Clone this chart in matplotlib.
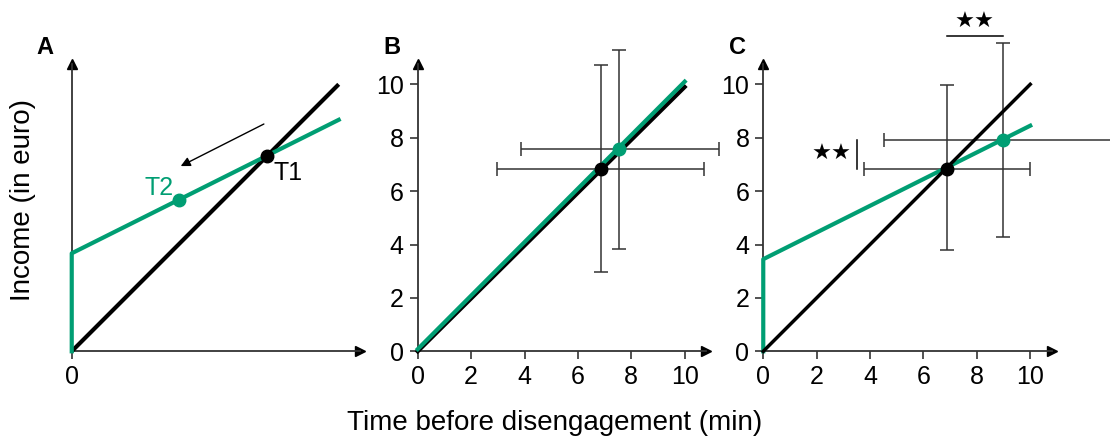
import matplotlib
matplotlib.use('Agg')
import matplotlib.pyplot as plt

plt.rcParams['font.family'] = ['Liberation Sans', 'DejaVu Sans']

GREEN = '#009E73'
AXC = '#333333'

# Panel A: schematic income lines
a_black_x = [0, 10]
a_black_y = [0, 10]
a_green_x = [0, 0, 10]
a_green_y = [0, 3.67, 8.67]
a_t1 = (7.3, 7.31)
a_t2 = (4.01, 5.67)
a_arrow_from = (7.29, 8.56)
a_arrow_to = (3.99, 6.89)

# Panel B
b_black_x = [0, 10]
b_black_y = [0, 9.9]
b_green_x = [0, 10]
b_green_y = [0.08, 10.1]
b_black_pt = dict(x=6.85, y=6.84, x_lo=2.97, x_hi=10.71, y_lo=2.97, y_hi=10.71)
b_green_pt = dict(x=7.55, y=7.56, x_lo=3.85, x_hi=11.3, y_lo=3.83, y_hi=11.29)

# Panel C
c_black_x = [0, 10]
c_black_y = [0, 10]
c_green_x = [0, 0, 10]
c_green_y = [0, 3.45, 8.45]
c_black_pt = dict(x=6.88, y=6.84, x_lo=3.78, x_hi=9.98, y_lo=3.78, y_hi=9.99)
c_green_pt = dict(x=8.98, y=7.9, x_lo=4.54, x_hi=13.4, y_lo=4.28, y_hi=11.55)

ticks = [0, 2, 4, 6, 8, 10]

fig = plt.figure(figsize=(11.1, 4.36), dpi=100)
lefts = [0.0526, 0.3643, 0.6756]
axes = [fig.add_axes([l, 0.1759, 0.2814, 0.7287]) for l in lefts]


def setup(ax, show_ticks):
    ax.set_xlim(-0.5, 11.2)
    ax.set_ylim(-0.3, 11.6)
    for s in ['top', 'right']:
        ax.spines[s].set_visible(False)
    for s in ['left', 'bottom']:
        ax.spines[s].set_position(('data', 0))
        ax.spines[s].set_color(AXC)
        ax.spines[s].set_linewidth(1.3)
    ax.spines['bottom'].set_bounds(0, 10.8)
    ax.spines['left'].set_bounds(0, 10.75)
    ax.plot([10.8], [0], marker='>', color='black', markersize=7, clip_on=False)
    ax.plot([0], [10.75], marker='^', color='black', markersize=7, clip_on=False)
    ax.tick_params(length=6, width=1.2, color=AXC, labelsize=18, pad=4)
    if show_ticks:
        ax.set_xticks(ticks)
        ax.set_yticks(ticks)
    else:
        ax.set_xticks([0])
        ax.set_yticks([])
    ax.patch.set_alpha(0)


def err(ax, p):
    ax.errorbar([p['x']], [p['y']],
                xerr=[[p['x'] - p['x_lo']], [p['x_hi'] - p['x']]],
                yerr=[[p['y'] - p['y_lo']], [p['y_hi'] - p['y']]],
                fmt='none', ecolor='#333333', elinewidth=1.1, capsize=5,
                capthick=1.1, clip_on=False, zorder=2)


# A
ax = axes[0]
setup(ax, False)
ax.plot(a_black_x, a_black_y, color='black', lw=3, solid_capstyle='butt', zorder=3)
ax.plot(a_green_x, a_green_y, color=GREEN, lw=3, zorder=4)
ax.plot(*a_t2, 'o', color=GREEN, markersize=9, zorder=5)
ax.plot(*a_t1, 'o', color='black', markersize=9, zorder=6)
ax.annotate('', xy=a_arrow_to, xytext=a_arrow_from,
            arrowprops=dict(arrowstyle='-|>', color='black', lw=1, mutation_scale=14))
ax.text(a_t1[0] + 0.25, a_t1[1] - 0.65, 'T1', fontsize=18, ha='left', va='center')
ax.text(a_t2[0] - 0.2, a_t2[1] + 0.45, 'T2', fontsize=18, ha='right', va='center', color=GREEN)

# B
ax = axes[1]
setup(ax, True)
ax.plot(b_black_x, b_black_y, color='black', lw=3, zorder=3)
ax.plot(b_green_x, b_green_y, color=GREEN, lw=3, zorder=3)
err(ax, b_black_pt)
err(ax, b_green_pt)
ax.plot(b_black_pt['x'], b_black_pt['y'], 'o', color='black', markersize=9, zorder=5)
ax.plot(b_green_pt['x'], b_green_pt['y'], 'o', color=GREEN, markersize=9, zorder=5)

# C
ax = axes[2]
setup(ax, True)
ax.plot(c_green_x, c_green_y, color=GREEN, lw=3, zorder=3)
ax.plot(c_black_x, c_black_y, color='black', lw=2.5, zorder=3)
err(ax, c_black_pt)
err(ax, c_green_pt)
ax.plot(c_black_pt['x'], c_black_pt['y'], 'o', color='black', markersize=9, zorder=5)
ax.plot(c_green_pt['x'], c_green_pt['y'], 'o', color=GREEN, markersize=9, zorder=5)
# significance markers
ax.plot([c_black_pt['x'], c_green_pt['x']], [11.8, 11.8], color='black', lw=1.1, clip_on=False)
ax.text((c_black_pt['x'] + c_green_pt['x']) / 2, 11.95, '★★', fontsize=16,
        ha='center', va='bottom', family=['DejaVu Sans'])
ax.plot([3.5, 3.5], [c_black_pt['y'], c_green_pt['y']], color='black', lw=1.1, clip_on=False)
ax.text(3.3, 7.4, '★★', fontsize=16, ha='right', va='center', family=['DejaVu Sans'])

fig.text(45 / 1110, 1 - 47 / 436, 'A', fontsize=17, weight='bold', ha='center', va='center')
fig.text(392 / 1110, 1 - 47 / 436, 'B', fontsize=17, weight='bold', ha='center', va='center')
fig.text(737 / 1110, 1 - 47 / 436, 'C', fontsize=17, weight='bold', ha='center', va='center')
fig.text(23 / 1110, 1 - 200 / 436, 'Income (in euro)', fontsize=20, rotation=90,
         ha='center', va='center')
fig.text(555 / 1110, 1 - 423 / 436, 'Time before disengagement (min)', fontsize=20,
         ha='center', va='center')

fig.savefig('out.png', dpi=100)
